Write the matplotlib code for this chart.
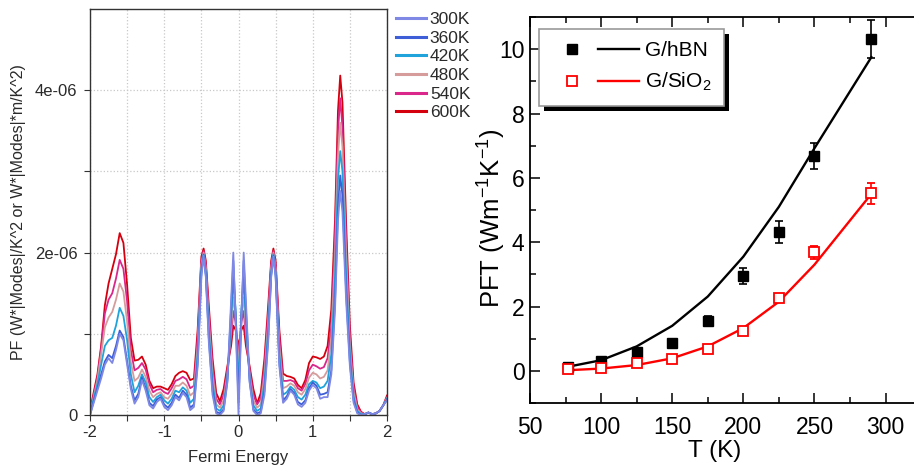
import matplotlib
matplotlib.use("Agg")
import matplotlib.pyplot as plt
import matplotlib.patheffects as pe
from matplotlib.legend_handler import HandlerTuple
from matplotlib.lines import Line2D
from matplotlib.ticker import MultipleLocator, FixedLocator, FuncFormatter

# ---------------- Left panel data (PF in units of 1e-6) ----------------
fermi_energy = [-2.00, -1.95, -1.90, -1.85, -1.80, -1.75, -1.70, -1.65, -1.60, -1.55,
                -1.50, -1.45, -1.40, -1.35, -1.30, -1.25, -1.20, -1.15, -1.10, -1.05,
                -1.00, -0.95, -0.90, -0.85, -0.80, -0.75, -0.70, -0.65, -0.60, -0.55,
                -0.50, -0.47, -0.44, -0.40, -0.35, -0.30, -0.25, -0.20, -0.15, -0.10,
                -0.07, -0.04, 0.00, 0.04, 0.07, 0.10, 0.15, 0.20, 0.25, 0.30,
                0.35, 0.40, 0.44, 0.47, 0.50, 0.55, 0.60, 0.65, 0.70, 0.75,
                0.80, 0.85, 0.90, 0.95, 1.00, 1.05, 1.10, 1.15, 1.20, 1.25,
                1.30, 1.34, 1.37, 1.40, 1.45, 1.50, 1.55, 1.60, 1.65, 1.70,
                1.75, 1.80, 1.85, 1.90, 1.95, 2.00]

pf_300K = [0.00, 0.15, 0.30, 0.45, 0.62, 0.70, 0.64, 0.80, 1.00, 0.92,
           0.62, 0.32, 0.14, 0.22, 0.43, 0.30, 0.12, 0.08, 0.16, 0.20,
           0.10, 0.06, 0.12, 0.22, 0.18, 0.27, 0.22, 0.06, 0.10, 0.60,
           1.70, 1.96, 1.70, 0.90, 0.25, 0.02, 0.00, 0.05, 0.40, 1.40,
           2.00, 1.20, 0.00, 1.20, 2.00, 1.40, 0.40, 0.05, 0.00, 0.02,
           0.25, 0.90, 1.70, 1.95, 1.70, 0.60, 0.15, 0.20, 0.30, 0.25,
           0.13, 0.10, 0.15, 0.30, 0.37, 0.33, 0.20, 0.22, 0.22, 0.50,
           1.30, 2.40, 2.76, 2.50, 1.40, 0.60, 0.15, 0.02, 0.00, 0.01,
           0.03, 0.01, 0.02, 0.05, 0.12, 0.18]
pf_360K = [0.00, 0.17, 0.33, 0.50, 0.66, 0.74, 0.70, 0.85, 1.04, 0.96,
           0.66, 0.36, 0.18, 0.26, 0.46, 0.33, 0.15, 0.11, 0.19, 0.22,
           0.13, 0.09, 0.15, 0.25, 0.21, 0.30, 0.25, 0.09, 0.13, 0.65,
           1.75, 1.97, 1.72, 0.95, 0.30, 0.04, 0.02, 0.07, 0.42, 1.30,
           1.90, 1.25, 0.15, 1.25, 1.90, 1.30, 0.42, 0.07, 0.02, 0.04,
           0.30, 0.95, 1.72, 1.96, 1.72, 0.65, 0.18, 0.23, 0.32, 0.27,
           0.16, 0.13, 0.18, 0.33, 0.40, 0.36, 0.25, 0.26, 0.28, 0.55,
           1.40, 2.55, 2.95, 2.70, 1.50, 0.65, 0.18, 0.03, 0.00, 0.01,
           0.03, 0.01, 0.02, 0.05, 0.12, 0.19]
pf_420K = [0.01, 0.20, 0.38, 0.62, 0.85, 0.92, 0.95, 1.10, 1.32, 1.22,
           0.92, 0.50, 0.28, 0.36, 0.50, 0.40, 0.22, 0.16, 0.22, 0.25,
           0.18, 0.14, 0.20, 0.30, 0.28, 0.34, 0.30, 0.15, 0.20, 0.75,
           1.80, 1.98, 1.75, 1.05, 0.40, 0.08, 0.05, 0.12, 0.45, 1.15,
           1.70, 1.30, 0.35, 1.30, 1.70, 1.15, 0.45, 0.12, 0.05, 0.08,
           0.40, 1.05, 1.75, 1.98, 1.75, 0.75, 0.25, 0.28, 0.35, 0.31,
           0.22, 0.19, 0.25, 0.38, 0.42, 0.40, 0.33, 0.35, 0.42, 0.75,
           1.70, 2.90, 3.25, 3.00, 1.70, 0.75, 0.22, 0.05, 0.01, 0.01,
           0.03, 0.01, 0.02, 0.05, 0.12, 0.20]
pf_480K = [0.02, 0.22, 0.43, 0.75, 1.08, 1.20, 1.27, 1.42, 1.62, 1.52,
           1.15, 0.65, 0.42, 0.46, 0.56, 0.47, 0.30, 0.22, 0.26, 0.28,
           0.22, 0.20, 0.26, 0.36, 0.36, 0.40, 0.36, 0.24, 0.28, 0.85,
           1.85, 2.00, 1.80, 1.15, 0.50, 0.13, 0.09, 0.18, 0.50, 1.05,
           1.45, 1.25, 0.55, 1.25, 1.45, 1.05, 0.50, 0.18, 0.09, 0.13,
           0.50, 1.15, 1.80, 2.00, 1.80, 0.85, 0.33, 0.35, 0.39, 0.36,
           0.28, 0.25, 0.32, 0.46, 0.52, 0.50, 0.45, 0.47, 0.55, 0.95,
           1.95, 3.20, 3.60, 3.30, 1.95, 0.85, 0.28, 0.07, 0.02, 0.01,
           0.03, 0.01, 0.02, 0.05, 0.12, 0.21]
pf_540K = [0.03, 0.25, 0.46, 0.82, 1.25, 1.42, 1.50, 1.68, 1.91, 1.80,
           1.40, 0.80, 0.55, 0.58, 0.64, 0.56, 0.38, 0.28, 0.31, 0.32,
           0.28, 0.26, 0.33, 0.42, 0.44, 0.47, 0.44, 0.33, 0.36, 0.95,
           1.90, 2.02, 1.85, 1.25, 0.60, 0.20, 0.13, 0.25, 0.55, 0.95,
           1.28, 1.15, 0.72, 1.15, 1.28, 0.95, 0.55, 0.25, 0.13, 0.20,
           0.60, 1.25, 1.85, 2.02, 1.85, 0.95, 0.42, 0.42, 0.43, 0.41,
           0.33, 0.30, 0.38, 0.55, 0.62, 0.60, 0.57, 0.59, 0.70, 1.10,
           2.20, 3.50, 3.90, 3.55, 2.15, 0.95, 0.34, 0.10, 0.03, 0.01,
           0.03, 0.01, 0.02, 0.05, 0.12, 0.22]
pf_600K = [0.04, 0.28, 0.50, 0.85, 1.35, 1.62, 1.80, 1.98, 2.24, 2.12,
           1.60, 0.95, 0.67, 0.68, 0.72, 0.62, 0.42, 0.33, 0.35, 0.35,
           0.33, 0.31, 0.38, 0.48, 0.52, 0.54, 0.52, 0.43, 0.45, 1.05,
           1.95, 2.05, 1.90, 1.35, 0.70, 0.27, 0.17, 0.32, 0.60, 0.85,
           1.10, 1.05, 0.85, 1.05, 1.10, 0.85, 0.60, 0.32, 0.14, 0.27,
           0.70, 1.35, 1.90, 2.05, 1.90, 1.05, 0.51, 0.48, 0.47, 0.45,
           0.37, 0.33, 0.43, 0.64, 0.72, 0.71, 0.69, 0.72, 0.85, 1.30,
           2.40, 3.75, 4.18, 3.85, 2.35, 1.10, 0.40, 0.13, 0.04, 0.01,
           0.03, 0.01, 0.02, 0.05, 0.12, 0.24]

temp_labels = ["300K", "360K", "420K", "480K", "540K", "600K"]
pf_series = [pf_300K, pf_360K, pf_420K, pf_480K, pf_540K, pf_600K]
pf_colors = ["#7f88e4", "#3d5ed6", "#1fa3da", "#d69c9c", "#d9278b", "#d5000e"]

# ---------------- Right panel data ----------------
T_exp = [77, 100, 125, 150, 175, 200, 225, 250, 290]
pft_hbn = [0.13, 0.31, 0.57, 0.86, 1.56, 2.95, 4.31, 6.68, 10.31]
pft_hbn_err = [0.05, 0.06, 0.08, 0.08, 0.13, 0.25, 0.34, 0.40, 0.60]
pft_sio2 = [0.05, 0.10, 0.24, 0.38, 0.67, 1.24, 2.26, 3.69, 5.52]
pft_sio2_err = [0.04, 0.05, 0.06, 0.06, 0.08, 0.10, 0.12, 0.20, 0.32]
T_model = [77, 100, 125, 150, 175, 200, 225, 250, 290]
model_hbn = [0.13, 0.33, 0.76, 1.40, 2.31, 3.55, 5.10, 6.92, 9.75]
model_sio2 = [0.02, 0.07, 0.18, 0.39, 0.76, 1.33, 2.15, 3.30, 5.50]

# ---------------- Figure ----------------
fig = plt.figure(figsize=(9.14, 4.68), dpi=100)
left_font = ["Liberation Sans", "DejaVu Sans"]
txt_col = "#2a2a2a"
lfs = 11.5

axL = fig.add_axes([90/914, 1-415/468, 297/914, 406/468])
scale = 1e-6
for lab, ser, col in reversed(list(zip(temp_labels, pf_series, pf_colors))):
    axL.plot(fermi_energy, [v*scale for v in ser], color=col, lw=1.3, label=lab)
axL.set_xlim(-2, 2)
axL.set_ylim(0, 5e-6)
axL.xaxis.set_major_locator(FixedLocator([-2, -1, 0, 1, 2]))
axL.xaxis.set_minor_locator(FixedLocator([-1.5, -0.5, 0.5, 1.5]))
axL.yaxis.set_major_locator(FixedLocator([0, 2e-6, 4e-6]))
axL.yaxis.set_minor_locator(FixedLocator([1e-6, 3e-6]))
axL.xaxis.set_major_formatter(FuncFormatter(lambda v, p: "%d" % round(v)))
axL.yaxis.set_major_formatter(FuncFormatter(lambda v, p: "0" if v == 0 else "%de-06" % round(v*1e6)))
axL.tick_params(which="both", direction="out", length=4, width=0.8, color="#333333",
                labelsize=lfs + 0.5, labelcolor=txt_col, pad=3)
axL.tick_params(axis="y", pad=5)
for lb in axL.get_xticklabels() + axL.get_yticklabels():
    lb.set_family(left_font)
axL.grid(True, which="both", ls=":", color="#c8c8c8", lw=0.9)
for s in axL.spines.values():
    s.set_color("#333333")
    s.set_linewidth(1.0)
axL.set_xlabel("Fermi Energy", family=left_font, fontsize=lfs + 0.5, color=txt_col)
axL.xaxis.set_label_coords(0.5, -0.085)
axL.set_ylabel("PF (W*|Modes|/K^2 or W*|Modes|*m/K^2)", family=left_font, fontsize=lfs,
               color=txt_col)
axL.yaxis.set_label_coords(-0.215, 0.5)
hL, lL = axL.get_legend_handles_labels()
legL = axL.legend(hL[::-1], lL[::-1], loc="upper left",
                  bbox_to_anchor=(306/297, (415-12)/406),
                  frameon=False, prop={"family": left_font, "size": 12.5},
                  handlelength=1.75, handletextpad=0.2, labelspacing=0.2,
                  borderaxespad=0, borderpad=0)
for t in legL.get_texts():
    t.set_color(txt_col)
for ln in legL.get_lines():
    ln.set_linewidth(2.2)

# ---------------- Right panel ----------------
plt.rcParams["mathtext.fontset"] = "custom"
plt.rcParams["mathtext.rm"] = "Liberation Sans"
plt.rcParams["mathtext.it"] = "Liberation Sans:italic"
right_font = ["Liberation Sans", "DejaVu Sans"]

axR = fig.add_axes([530/914, 1-403/468, 384/914, 386/468])
axR.plot(T_model, model_hbn, color="black", lw=1.7, zorder=2)
axR.plot(T_model, model_sio2, color="#ff0000", lw=1.7, zorder=2)
axR.errorbar(T_exp, pft_hbn, yerr=pft_hbn_err, fmt="s", color="black", ms=7,
             capsize=3, elinewidth=1.2, capthick=1.2, zorder=3)
axR.errorbar(T_exp, pft_sio2, yerr=pft_sio2_err, fmt="s", color="#ff0000", mfc="white",
             mec="#ff0000", mew=1.3, ms=7, capsize=3, elinewidth=1.2, capthick=1.2, zorder=3)
axR.set_xlim(50, 320)
axR.set_ylim(-1, 11)
axR.xaxis.set_major_locator(MultipleLocator(50))
axR.xaxis.set_minor_locator(MultipleLocator(25))
axR.yaxis.set_major_locator(MultipleLocator(2))
axR.yaxis.set_minor_locator(MultipleLocator(1))
axR.tick_params(which="both", direction="in", top=True, right=False, width=1.1)
axR.tick_params(which="major", length=7, labelsize=16.5, pad=9)
axR.tick_params(axis="y", which="major", pad=4)
axR.tick_params(which="minor", length=4)
for lb in axR.get_xticklabels() + axR.get_yticklabels():
    lb.set_family(right_font)
axR.spines["right"].set_visible(False)
for k in ["left", "bottom", "top"]:
    axR.spines[k].set_linewidth(1.3)
axR.set_xlabel("T (K)", family=right_font, fontsize=17.5)
axR.xaxis.set_label_coords(0.482, -0.095)
axR.set_ylabel(r"PFT (Wm$^{\mathregular{-1}}$K$^{\mathregular{-1}}$)", family=right_font,
               fontsize=18.5)
axR.yaxis.set_label_coords(-0.056, 0.478)

h_hbn = (Line2D([], [], ls="none", marker="s", color="black", ms=7),
         Line2D([], [], color="black", lw=1.7))
h_sio2 = (Line2D([], [], ls="none", marker="s", mfc="white", mec="#ff0000", mew=1.3, ms=7),
          Line2D([], [], color="#ff0000", lw=1.7))
legR = axR.legend([h_hbn, h_sio2], ["G/hBN", r"G/SiO$_{\mathregular{2}}$"],
                  handler_map={tuple: HandlerTuple(ndivide=None, pad=0.3)},
                  loc="upper left", bbox_to_anchor=(9/384, 1-12/386), borderaxespad=0,
                  fancybox=False, framealpha=1, edgecolor="#999999",
                  prop={"family": right_font, "size": 15}, handlelength=4.2,
                  handletextpad=0.3, labelspacing=0.5, borderpad=0.6)
legR.get_frame().set_linewidth(1.2)
legR.get_frame().set_path_effects([
    pe.SimplePatchShadow(offset=(3.5, -3.5), shadow_rgbFace="black", alpha=1.0),
    pe.Normal()])

fig.savefig("out.png", dpi=100)
